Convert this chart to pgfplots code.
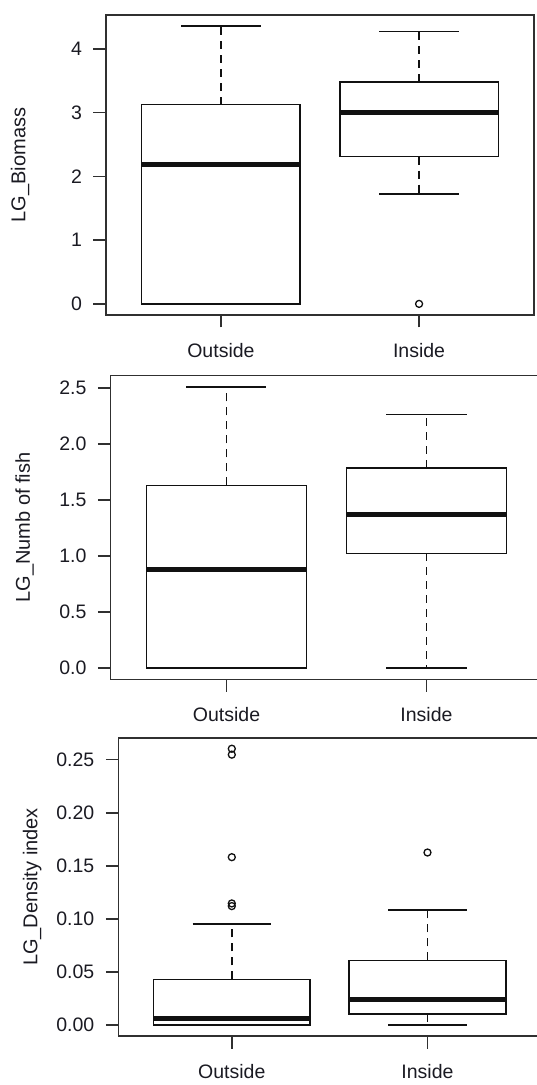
\documentclass[border=0pt]{standalone}
\usepackage{fontspec}
\setmainfont{Liberation Sans}
\usepackage{pgfplots}
\pgfplotsset{compat=1.18}
\usepgfplotslibrary{statistics}
\definecolor{txt}{HTML}{1A1A22}
\definecolor{frame}{HTML}{303030}
\definecolor{ln}{HTML}{111111}

\tikzset{
  rwhisk/.style={line width=1.6pt, color=ln, dash pattern=on 8pt off 6pt},
  rcap/.style={line width=1.6pt, color=ln, solid},
}

\pgfplotsset{
  rbox/.style={
    scale only axis,
    anchor=south west,
    xmin=0.42, xmax=2.58,
    xtick={1,2}, xticklabels={Outside,Inside},
    tick align=outside,
    tick pos=left,
    major tick length=12.5pt,
    tick style={line width=1.6pt, color=frame},
    axis line style={line width=1.6pt, color=frame},
    ticklabel style={font=\fontsize{19.5}{19.5}\selectfont, text=txt},
    xticklabel style={font=\fontsize{19.5}{19.5}\selectfont, yshift=-12pt},
    yticklabel style={xshift=-8pt},
    /pgf/number format/assume math mode=true,
    every axis y label/.style={at={(rel axis cs:0,0.5)}, xshift=-86pt, rotate=90, anchor=center, font=\fontsize{20}{20}\selectfont, text=txt},
    boxplot/draw direction=y,
    boxplot/box extend=0.8,
    boxplot/whisker extend=0.4,
    boxplot/every median/.style={line width=5pt},
    boxplot/draw/lower whisker/.code={%
      \draw[rwhisk] (boxplot cs:\pgfplotsboxplotvalue{lower quartile}) -- (boxplot cs:\pgfplotsboxplotvalue{lower whisker});
      \draw[rcap] (boxplot whisker cs:\pgfplotsboxplotvalue{lower whisker},0) -- (boxplot whisker cs:\pgfplotsboxplotvalue{lower whisker},1);
    },
    boxplot/draw/upper whisker/.code={%
      \draw[rwhisk] (boxplot cs:\pgfplotsboxplotvalue{upper quartile}) -- (boxplot cs:\pgfplotsboxplotvalue{upper whisker});
      \draw[rcap] (boxplot whisker cs:\pgfplotsboxplotvalue{upper whisker},0) -- (boxplot whisker cs:\pgfplotsboxplotvalue{upper whisker},1);
    },
  },
  rplot/.style={color=ln, line width=1.6pt, solid, mark=o, mark size=3.5pt, mark options={line width=1.3pt, solid, color=ln}},
}

\begin{document}
\begin{tikzpicture}
\useasboundingbox (0,0) rectangle (537pt,1085pt);
\clip (0,0) rectangle (537pt,1085pt);

% Panel 1: LG_Biomass
\begin{axis}[rbox, at={(106pt,770pt)}, width=428pt, height=300pt,
  ymin=-0.174, ymax=4.529, ytick={0,1,2,3,4},
  ylabel={LG\_Biomass}]
\addplot[rplot, boxplot prepared={draw position=1, lower whisker=0, lower quartile=0, median=2.18, upper quartile=3.125, upper whisker=4.355}] coordinates {};
\addplot[rplot, boxplot prepared={draw position=2, lower whisker=1.72, lower quartile=2.31, median=3.0, upper quartile=3.48, upper whisker=4.27}] coordinates {(0,0)};
\end{axis}

% Panel 2: LG_Numb of fish
\begin{axis}[rbox, at={(110.5pt,405.5pt)}, width=432pt, height=304pt,
  ymin=-0.1005, ymax=2.6135, ytick={0,0.5,1,1.5,2,2.5},
  yticklabel style={/pgf/number format/.cd, fixed, fixed zerofill, precision=1},
  ylabel={LG\_Numb of fish}]
\addplot[rplot, boxplot prepared={draw position=1, lower whisker=0, lower quartile=0, median=0.879, upper quartile=1.633, upper whisker=2.512}] coordinates {};
\addplot[rplot, boxplot prepared={draw position=2, lower whisker=0, lower quartile=1.025, median=1.374, upper quartile=1.788, upper whisker=2.265}] coordinates {};
\end{axis}

% Panel 3: LG_Density index
\begin{axis}[rbox, at={(118.3pt,49pt)}, width=422.7pt, height=298pt,
  ymin=-0.0104, ymax=0.2704, ytick={0,0.05,0.1,0.15,0.2,0.25},
  yticklabel style={/pgf/number format/.cd, fixed, fixed zerofill, precision=2},
  ylabel={LG\_Density index}]
\addplot[rplot, boxplot prepared={draw position=1, lower whisker=0, lower quartile=0, median=0.006, upper quartile=0.043, upper whisker=0.0954}] coordinates {(0,0.2603) (0,0.2547) (0,0.1581) (0,0.1145) (0,0.112)};
\addplot[rplot, boxplot prepared={draw position=2, lower whisker=0, lower quartile=0.0104, median=0.0238, upper quartile=0.0609, upper whisker=0.1082}] coordinates {(0,0.1625)};
\end{axis}
\end{tikzpicture}
\end{document}
